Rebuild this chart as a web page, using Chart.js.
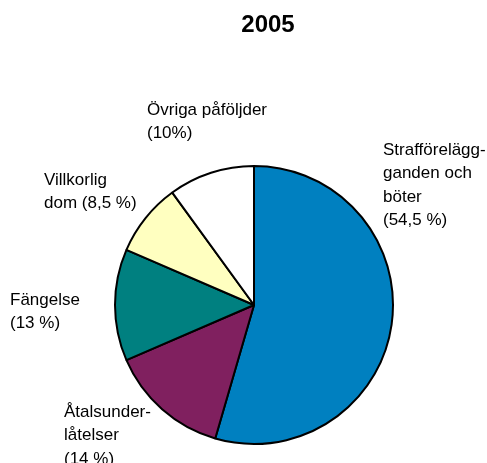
<!DOCTYPE html>
<html>
<head>
<meta charset="utf-8">
<script src="https://cdn.jsdelivr.net/npm/chart.js@4/dist/chart.umd.min.js"></script>
<style>
html,body{margin:0;padding:0;background:#fff}
#wrap{position:relative;width:487px;height:463px}
</style>
</head>
<body>
<div id="wrap"><canvas id="pie" width="487" height="463"></canvas></div>
<script>
var title="2005";
var categories=["Strafförelägganden och böter","Åtalsunderlåtelser","Fängelse","Villkorlig dom","Övriga påföljder"];
var shares=[54.5,14,13,8.5,10];
var colors=["#0080C0","#80205F","#008080","#FFFFC0","#FFFFFF"];
// label text lines as shown beside each slice
var labelLines=[
  ["Strafförelägg-","ganden och","böter","(54,5 %)"],
  ["Åtalsunder-","låtelser","(14 %)"],
  ["Fängelse","(13 %)"],
  ["Villkorlig","dom (8,5 %)"],
  ["Övriga påföljder","(10%)"]
];
// top-left anchor of each label block (layout only)
var labelPos=[[383,150],[64,412],[10,300],[44,180],[147,110]];

var labelPlugin={
  id:"sliceLabels",
  afterDraw:function(chart){
    var ctx=chart.ctx;
    ctx.save();
    ctx.fillStyle="#000";
    ctx.textBaseline="middle";
    ctx.textAlign="left";
    ctx.font="17px 'Liberation Sans', Arial, sans-serif";
    for(var i=0;i<labelLines.length;i++){
      for(var j=0;j<labelLines[i].length;j++){
        ctx.fillText(labelLines[i][j],labelPos[i][0],labelPos[i][1]+j*23.5);
      }
    }
    ctx.font="bold 24px 'Liberation Sans', Arial, sans-serif";
    ctx.textAlign="center";
    ctx.fillText(title,268,25);
    ctx.restore();
  }
};

new Chart(document.getElementById("pie").getContext("2d"),{
  type:"pie",
  data:{labels:categories,datasets:[{data:shares,backgroundColor:colors,borderColor:"#000",borderWidth:2}]},
  options:{
    responsive:false,animation:false,
    layout:{padding:{left:114,right:93,top:165,bottom:18}},
    plugins:{legend:{display:false},tooltip:{enabled:false}}
  },
  plugins:[labelPlugin]
});
</script>
</body>
</html>
